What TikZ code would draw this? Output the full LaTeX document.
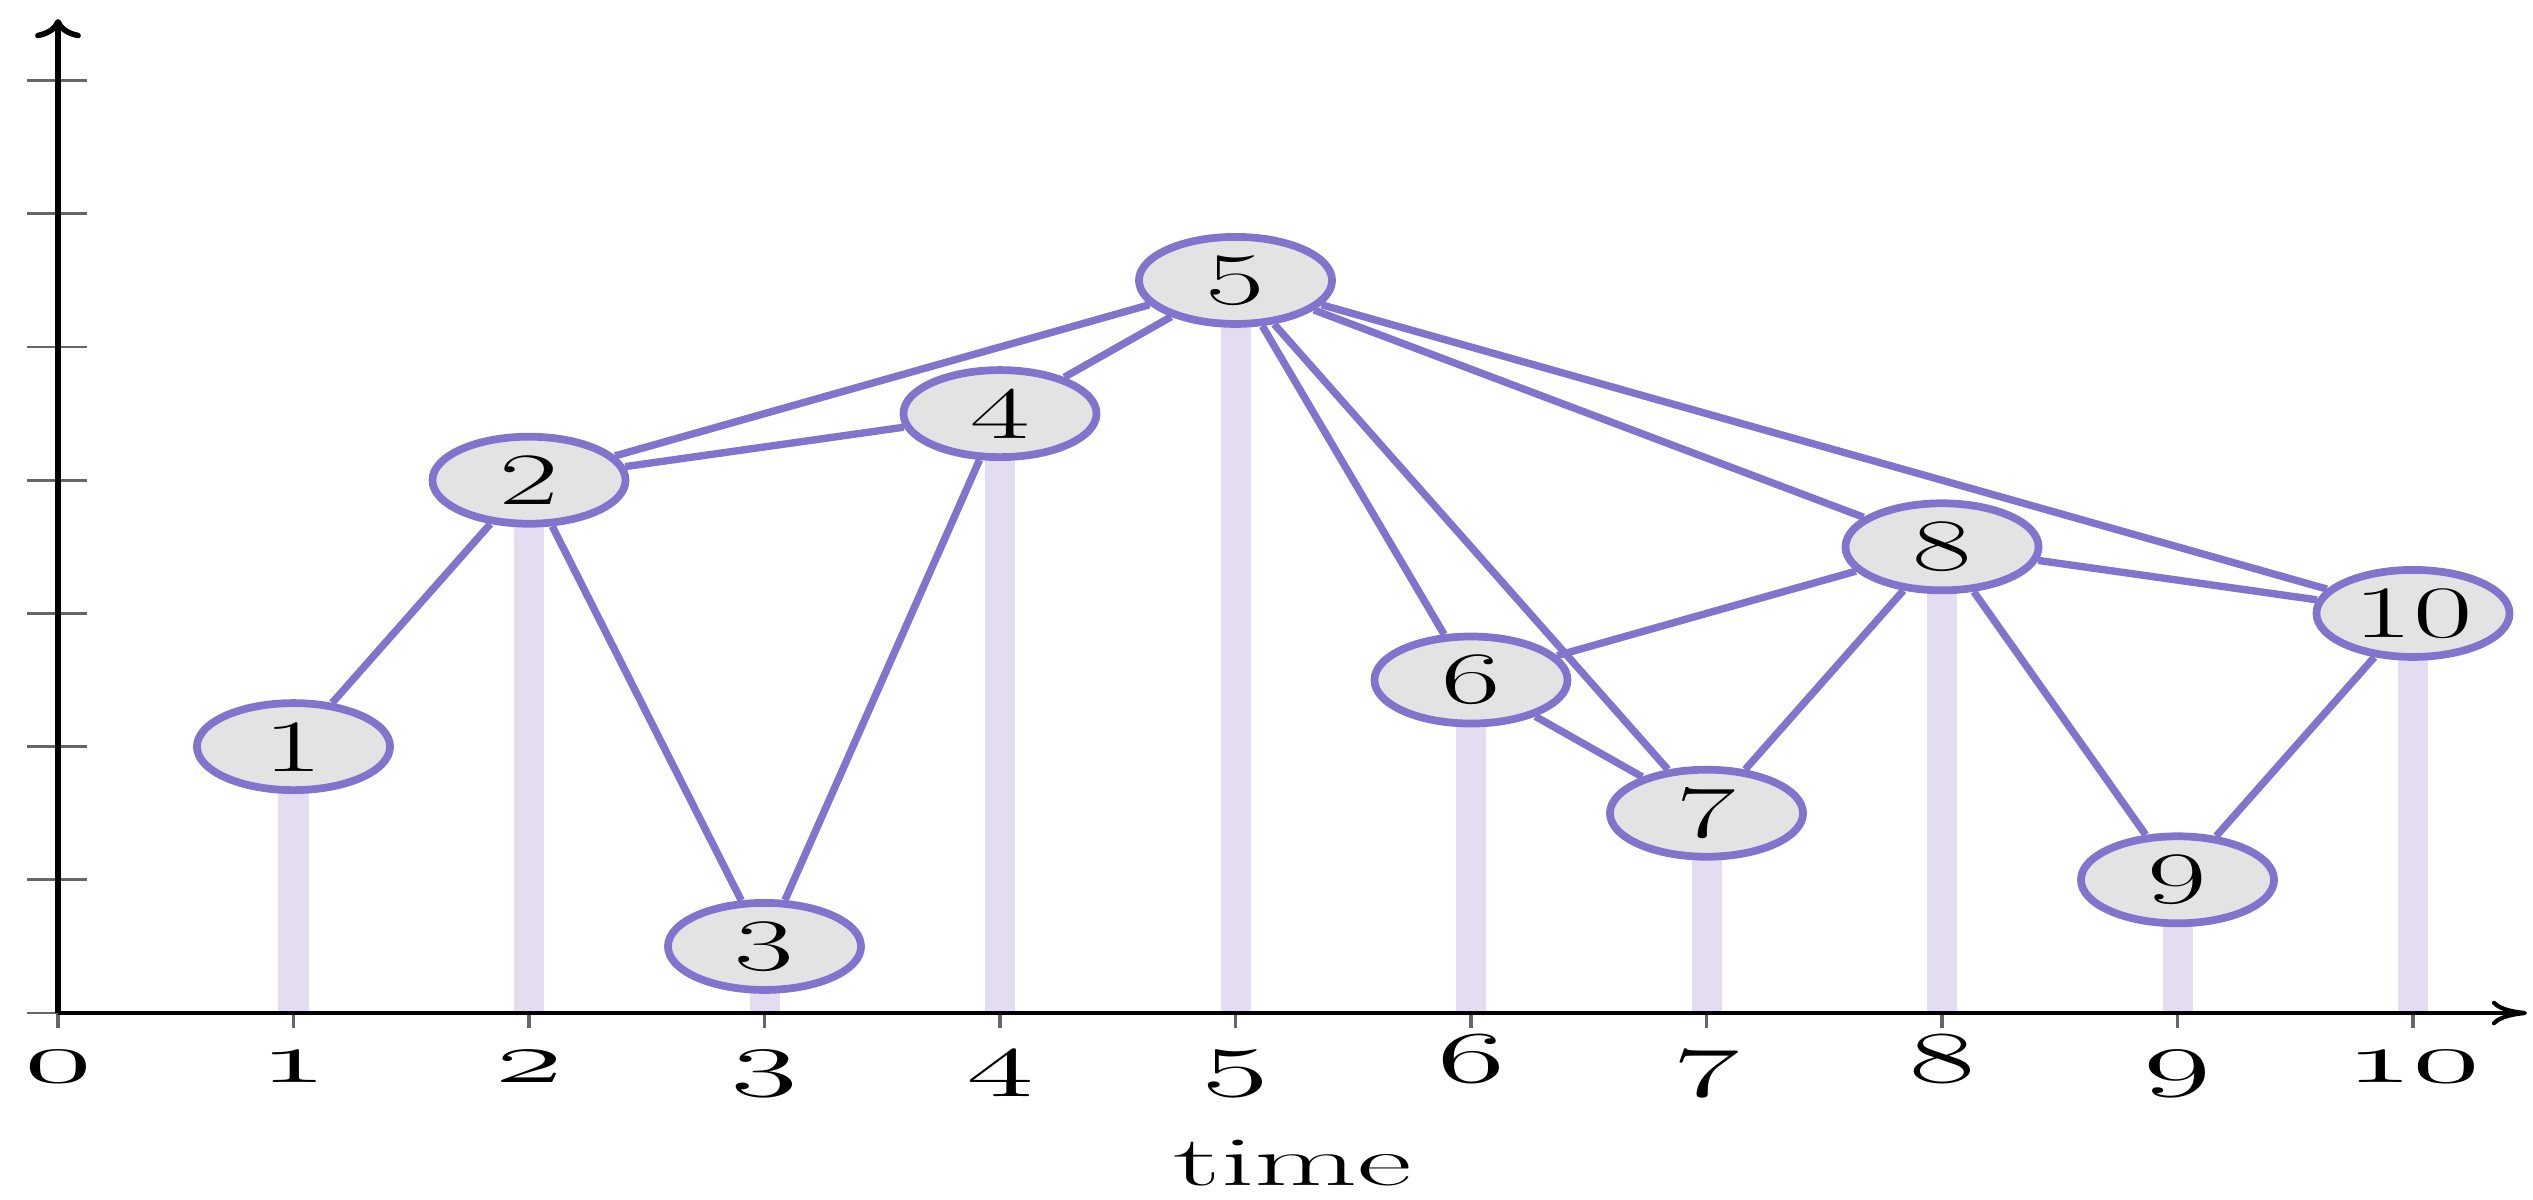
\documentclass[tikz,border=0pt]{standalone}
\usepackage{graphicx}
\usetikzlibrary{arrows.meta,shapes.geometric}
\definecolor{edgec}{RGB}{130,116,204}
\definecolor{nodefill}{RGB}{227,227,227}
\definecolor{stemc}{RGB}{228,220,240}
\newcommand\osn[1]{{\usefont{OML}{cmm}{m}{it}#1}}
\pgfdeclarelayer{background}
\pgfsetlayers{background,main}
\begin{document}
\begin{tikzpicture}[x=0.01cm,y=-0.01cm,
  gnode/.style={ellipse, draw=edgec, line width=2.2pt, fill=nodefill,
    minimum width=1.93cm, minimum height=0.87cm, inner sep=0pt},
  gedge/.style={draw=edgec, line width=2.1pt},
  stembar/.style={draw=stemc, line width=0.3cm},
  axisline/.style={line width=1.2pt, black},
  tickline/.style={draw=black!60, line width=0.8pt},
  axlabel/.style={inner sep=0pt, anchor=base, font=\fontsize{20}{24}\selectfont},
]
\useasboundingbox (0,0) rectangle (2533,1199);
\coordinate (O) at (58,1013);
\coordinate (xend) at (2527,1013);
\coordinate (yend) at (58,19);

% y ticks
\foreach \l in {0,...,7}
  \draw[tickline] (27,{1013-133.2*\l}) -- (87,{1013-133.2*\l});
% x ticks and labels
\foreach \i in {0,...,10}{
  \draw[tickline, line width=1.1pt] ({58+235.5*\i},1013) -- ({58+235.5*\i},1028);
  \node[axlabel] (xl\i) at ({58+235.5*\i},1082) {\scalebox{1.9}[1]{\osn{\i}}};
}
\node[axlabel] (tlabel) at (1293,1185) {\scalebox{1.9}[1]{time}};

% axes
\draw[axisline, -{To[length=10pt,width=7pt]}] (O) -- (xend);
\draw[axisline, line width=1.6pt, -{To[length=5.5pt,width=13pt]}] (O) -- (yend);

% nodes
\foreach \i/\l in {1/2,2/4,3/0.5,4/4.5,5/5.5,6/2.5,7/1.5,8/3.5,9/1,10/3}{
  \node[gnode] (n\i) at ({58+235.5*\i},{1013-133.2*\l})
    {\scalebox{1.75}[1]{\fontsize{21}{24}\selectfont\i}};
}

\begin{pgfonlayer}{background}
\foreach \i in {1,...,10}
  \draw[stembar] (n\i.center) -- (n\i.center |- O);
\foreach \a/\b in {1/2,2/3,3/4,2/4,2/5,4/5,5/6,5/7,5/8,5/10,6/7,6/8,7/8,8/9,8/10,9/10}
  \draw[gedge] (n\a) -- (n\b);
\end{pgfonlayer}
\end{tikzpicture}
\end{document}
